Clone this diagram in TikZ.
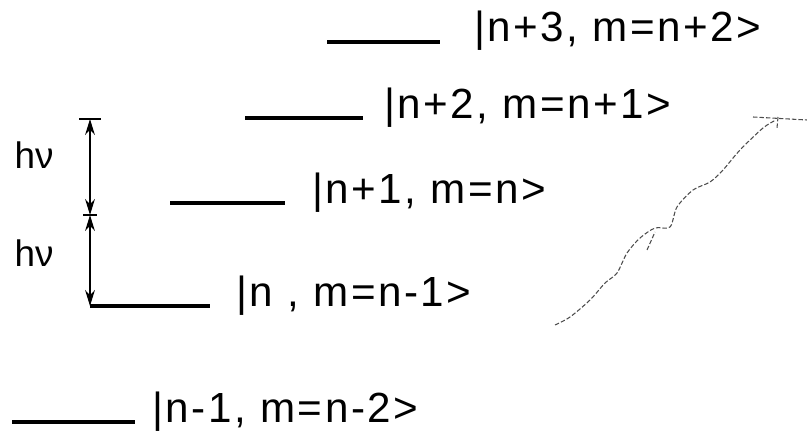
\documentclass[tikz,border=0pt]{standalone}
\usepackage{fontspec}
\setmainfont{Liberation Sans}
\usepackage{tikz}
\usetikzlibrary{arrows.meta,positioning,calc}

\begin{document}
\begin{tikzpicture}[x=0.02cm,y=-0.02cm,
  lv/.style={line width=2.2pt},
  kt/.style={anchor=base west,inner sep=0pt,
    font=\fontsize{24}{28}\selectfont\addfontfeatures{LetterSpace=6}},
  hv/.style={inner sep=0pt,font=\fontsize{21}{25}\selectfont},
  ar/.style={line width=1.3pt,{Stealth[length=9pt,width=5.5pt]}-{Stealth[length=9pt,width=5.5pt]}},
  bar/.style={line width=1.3pt},
  sc/.style={line width=0.6pt,dash pattern=on 2.5pt off 1.2pt,black!70}
]
\useasboundingbox (0,0) rectangle (807,439);
%--- levels, top to bottom ---
\coordinate (a1) at (327,42);  \coordinate (a2) at (440,42);
\coordinate (b1) at (245,118); \coordinate (b2) at (363,118);
\coordinate (c1) at (170,203); \coordinate (c2) at (285,203);
\coordinate (d2) at (210,306);
\coordinate (e1) at (12,422);  \coordinate (e2) at (135,422);
\draw[lv](a1)--(a2); \draw[lv](b1)--(b2); \draw[lv](c1)--(c2);
\draw[lv](e1)--(e2);
\node[kt] (ka) at (474,42) {|n+3, m=n+2>};
\node[kt] (kb) at (384,118) {|n+2, m=n+1>};
\node[kt] (kc) at (312,203) {|n+1, m=n>};
\node[kt] (kd) at (236,306) {|n , m=n-1>};
\node[kt] (ke) at (152,422) {|n-1, m=n-2>};
%--- photon steps ---
\coordinate (t) at (90,119);
\coordinate (m) at (90,215);
\coordinate (f) at (90,306);
\draw[lv](f)--(d2);
\draw[bar]($(t)+(-11,0)$)--($(t)+(11,0)$);
\draw[bar]($(m)+(-7,0)$)--($(m)+(7,0)$);
\draw[ar](m)--(t); \draw[ar](m)--(f);
\node[hv] (h1) at (34,155) {hν};
\node[hv] (h2) at (34,253) {hν};
%--- stray pen mark ---
\draw[sc] plot[smooth] coordinates {(555,325) (570,317) (590,300) (605,283)
  (617,273) (627,253) (640,238) (655,228) (670,227) (677,207) (693,190)
  (710,182) (723,170) (740,150) (763,128) (776,120)};
\draw[sc] (647,250)--(655,232);
\draw[sc] (753,117)--(807,120);
\draw[sc] (778,117)--(777,128);
\end{tikzpicture}
\end{document}
